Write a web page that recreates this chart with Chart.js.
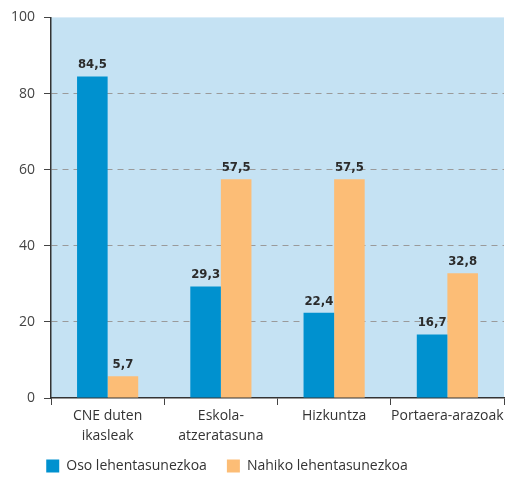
<!DOCTYPE html>
<html>
<head>
<meta charset="utf-8">
<script src="https://cdn.jsdelivr.net/npm/chart.js@4.4.1/dist/chart.umd.min.js"></script>
<style>
  html, body { margin: 0; padding: 0; background: #fff; }
  #wrap { width: 506px; height: 479px; }
</style>
</head>
<body>
<div id="wrap"><canvas id="chart" width="506" height="479"></canvas></div>
<script>
const categories = [["CNE duten", "ikasleak"], ["Eskola-", "atzeratasuna"], "Hizkuntza", "Portaera-arazoak"];
const osoValues = [84.5, 29.3, 22.4, 16.7];
const nahikoValues = [5.7, 57.5, 57.5, 32.8];
const yTicks = [0, 20, 40, 60, 80, 100];

const FONT = "'Open Sans', 'DejaVu Sans', sans-serif";

// light blue plot background
const plotBg = {
    id: 'plotBg',
    beforeDraw(chart) {
        const { ctx, chartArea: a } = chart;
        ctx.save();
        ctx.fillStyle = '#c5e2f3';
        ctx.fillRect(a.left, a.top, a.right - a.left, a.bottom - a.top);
        ctx.restore();
    }
};

// values above the bars
const barLabels = {
    id: 'barLabels',
    afterDatasetsDraw(chart) {
        const ctx = chart.ctx;
        ctx.save();
        ctx.font = "bold 13px 'Liberation Sans Narrow', 'DejaVu Sans Condensed', sans-serif";
        ctx.fillStyle = '#2b2b2b';
        ctx.textAlign = 'center';
        ctx.textBaseline = 'bottom';
        chart.data.datasets.forEach((ds, i) => {
            chart.getDatasetMeta(i).data.forEach((bar, j) => {
                ctx.fillText(ds.data[j].toFixed(1).replace('.', ','), bar.x, bar.y - 5);
            });
        });
        ctx.restore();
    }
};

// nudge the legend left and up like the original
const legendShift = {
    id: 'legendShift',
    afterLayout(chart) {
        const lg = chart.legend;
        lg.left -= 25;
        lg.right -= 25;
        lg.top -= 11;
        lg.bottom -= 11;
    }
};

new Chart(document.getElementById('chart'), {
    type: 'bar',
    data: {
        labels: categories,
        datasets: [
            {
                label: 'Oso lehentasunezkoa',
                data: osoValues,
                backgroundColor: '#0091cf',
                borderWidth: 0
            },
            {
                label: 'Nahiko lehentasunezkoa',
                data: nahikoValues,
                backgroundColor: '#fcbd76',
                borderWidth: 0
            }
        ]
    },
    options: {
        responsive: false,
        animation: false,
        layout: { padding: { top: 16, right: 2, bottom: -15, left: 0 } },
        datasets: {
            bar: { categoryPercentage: 0.54, barPercentage: 1.0 }
        },
        plugins: {
            legend: {
                position: 'bottom',
                labels: {
                    boxWidth: 13,
                    boxHeight: 13,
                    padding: 20,
                    color: '#333',
                    font: { family: FONT, size: 14 }
                }
            },
            tooltip: { enabled: false }
        },
        scales: {
            x: {
                grid: {
                    offset: true,
                    drawOnChartArea: false,
                    tickLength: 7,
                    tickColor: '#444'
                },
                border: { color: '#333', width: 1.5 },
                ticks: {
                    color: '#333',
                    padding: 1,
                    autoSkip: false,
                    maxRotation: 0,
                    font: { family: FONT, size: 14, lineHeight: 1.45 }
                },
                afterFit: s => { s.height = 52; }
            },
            y: {
                min: 0,
                max: 100,
                afterBuildTicks: s => { s.ticks = yTicks.map(v => ({ value: v })); },
                grid: {
                    color: ctx => (ctx.tick && (ctx.tick.value === 0 || ctx.tick.value === 100)) ? 'rgba(0,0,0,0)' : '#9a9a9a',
                    tickBorderDash: [],
                    tickColor: '#444',
                    tickLength: 7
                },
                border: { color: '#333', width: 1.5, dash: [6, 5] },
                ticks: {
                    color: '#444',
                    padding: 9,
                    font: { family: FONT, size: 14 }
                },
                afterFit: s => { s.width = 51; }
            }
        }
    },
    plugins: [plotBg, barLabels, legendShift]
});
</script>
</body>
</html>
